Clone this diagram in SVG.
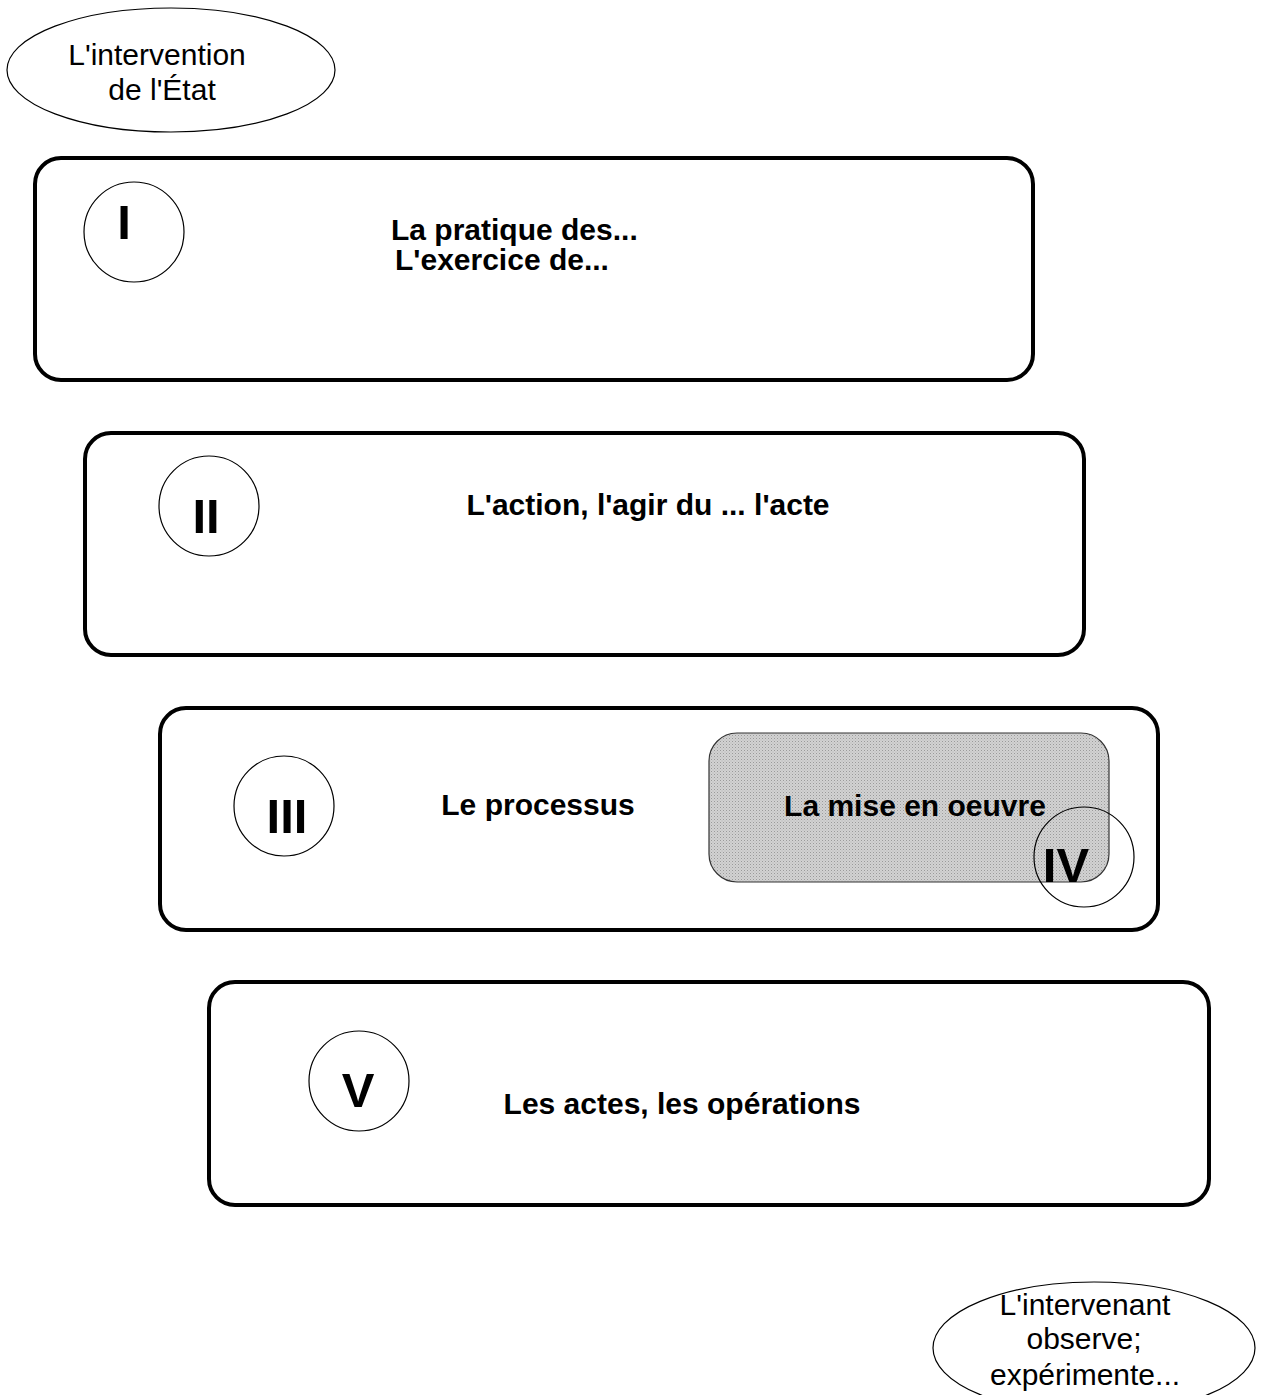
<svg xmlns="http://www.w3.org/2000/svg" width="1264" height="1395" viewBox="0 0 1264 1395">
<style>
.box{fill:#fff;stroke:#000;stroke-width:4}
.ring{fill:none;stroke:#000;stroke-width:1.2}
.oval{fill:#fff;stroke:#000;stroke-width:1.2}
.num{font-family:"Liberation Sans",Arial,sans-serif;font-weight:bold;font-size:49px;fill:#000}
.lbl{font-family:"Liberation Sans",Arial,sans-serif;font-weight:bold;font-size:30px;fill:#000}
.reg{font-family:"Liberation Sans",Arial,sans-serif;font-size:30px;fill:#000;text-anchor:middle}
</style>
<defs>
<pattern id="dots" width="3" height="3" patternUnits="userSpaceOnUse">
<rect width="3" height="3" fill="#d2d2d2"/>
<rect width="1" height="1" fill="#9a9a9a"/>
<rect x="1.5" y="1.5" width="1" height="1" fill="#b4b4b4"/>
</pattern>
</defs>
<rect width="1264" height="1395" fill="#fff"/>
<g id="connectors"></g>
<g id="etat">
<ellipse class="oval" cx="171" cy="70" rx="164" ry="62"/>
<text class="reg" x="157" y="65">L'intervention</text>
<text class="reg" x="162" y="100">de l'État</text>
</g>
<g id="box1">
<rect class="box" x="35" y="158" width="998" height="222" rx="26"/>
<circle class="ring" cx="134" cy="232" r="50"/>
<text class="num" x="124" y="239" text-anchor="middle">I</text>
<text class="lbl" x="391" y="240">La pratique des...</text>
<text class="lbl" x="395" y="270">L'exercice de...</text>
</g>
<g id="box2">
<rect class="box" x="85" y="433" width="999" height="222" rx="26"/>
<circle class="ring" cx="209" cy="506" r="50"/>
<text class="num" x="206" y="533" text-anchor="middle">II</text>
<text class="lbl" x="648" y="515" text-anchor="middle">L'action, l'agir du ... l'acte</text>
</g>
<g id="box3">
<rect class="box" x="160" y="708" width="998" height="222" rx="26"/>
<circle class="ring" cx="284" cy="806" r="50"/>
<text class="num" x="287" y="833" text-anchor="middle">III</text>
<text class="lbl" x="538" y="815" text-anchor="middle">Le processus</text>
</g>
<g id="box4">
<rect x="709" y="733" width="400" height="149" rx="28" fill="url(#dots)" stroke="#333" stroke-width="1.2"/>
<text class="lbl" x="915" y="816" text-anchor="middle">La mise en oeuvre</text>
<circle class="ring" cx="1084" cy="857" r="50"/>
<text class="num" x="1066" y="882" text-anchor="middle">IV</text>
</g>
<g id="box5">
<rect class="box" x="209" y="982" width="1000" height="223" rx="26"/>
<circle class="ring" cx="359" cy="1081" r="50"/>
<text class="num" x="358" y="1107" text-anchor="middle">V</text>
<text class="lbl" x="682" y="1114" text-anchor="middle">Les actes, les opérations</text>
</g>
<g id="intervenant">
<ellipse class="oval" cx="1094" cy="1348" rx="161" ry="66"/>
<text class="reg" x="1085" y="1315">L'intervenant</text>
<text class="reg" x="1084" y="1349">observe;</text>
<text class="reg" x="1085" y="1385">expérimente...</text>
</g>
</svg>
